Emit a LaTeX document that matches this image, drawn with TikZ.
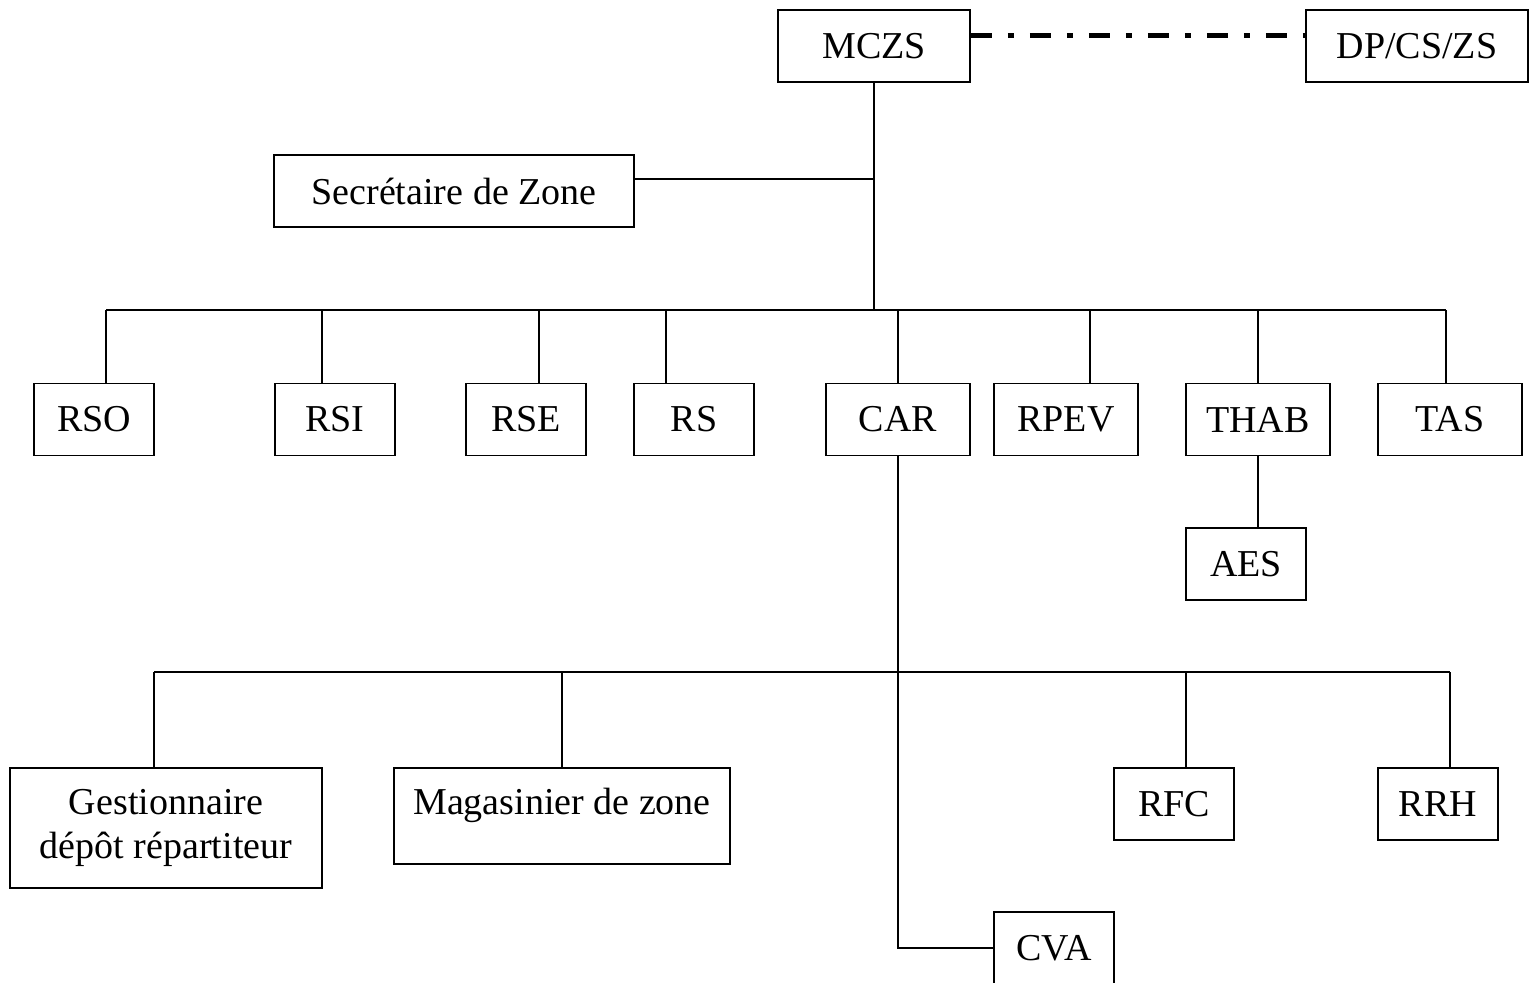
\documentclass[tikz,border=0pt]{standalone}
\usepackage{fontspec}
\setmainfont{Liberation Serif}
\usetikzlibrary{positioning}

\tikzset{
  box/.style={draw,line width=0.9pt,inner sep=0pt,align=center,
    font=\fontsize{19}{22}\selectfont,minimum height=36pt},
  link/.style={line width=0.8pt},
  dashdot/.style={line width=2.5pt,dash pattern=on 10.5pt off 8pt on 3pt off 8pt}
}

\begin{document}
\begin{tikzpicture}[x=0.5pt,y=-0.5pt,line join=miter]
	\useasboundingbox (0,0) rectangle (1529,982);
	%%
	\node (mczs) at (874,46) [box,minimum width=96pt] {MCZS};
	  \node (dpcszs) at (1417,46) [box,minimum width=111pt] {DP/CS/ZS};
	  \node (sec) at (454,191) [box,minimum width=180pt] {Secr\'etaire de Zone};

	  \node (rso) at (94,419.5) [box,minimum width=60pt] {RSO};
	  \node (rsi) at (335,419.5) [box,minimum width=60pt] {RSI};
	  \node (rse) at (526,419.5) [box,minimum width=60pt] {RSE};
	  \node (rs) at (694,419.5) [box,minimum width=60pt] {RS};
	  \node (car) at (898,419.5) [box,minimum width=72pt] {CAR};
	  \node (rpev) at (1066,419.5) [box,minimum width=72pt] {RPEV};
	  \node (thab) at (1258,419.5) [box,minimum width=72pt] {THAB};
	  \node (tas) at (1450,419.5) [box,minimum width=72pt] {TAS};
	  \node (aes) at (1246,564) [box,minimum width=60pt] {AES};

	  \node (gest) at (166,828) [box,minimum width=156pt,minimum height=60pt] {Gestionnaire\\d\'ep\^ot r\'epartiteur};
	  \node (mag) at (562,816) [box,minimum width=168pt,minimum height=48pt,text height=13.3pt,text depth=14.7pt] {Magasinier de zone};
	  \node (rfc) at (1174,804) [box,minimum width=60pt] {RFC};
	  \node (rrh) at (1438,804) [box,minimum width=60pt] {RRH};
	  \node (cva) at (1054,948) [box,minimum width=60pt] {CVA};

	  %% bus points
	  \coordinate (top) at (874,310);
	  \coordinate (t1) at (106,310);
	  \coordinate (t2) at (322,310);
	  \coordinate (t3) at (539,310);
	  \coordinate (t4) at (666,310);
	  \coordinate (t5) at (898,310);
	  \coordinate (t6) at (1090,310);
	  \coordinate (t7) at (1258,310);
	  \coordinate (t8) at (1446,310);
	  \coordinate (b1) at (154,672);
	  \coordinate (b2) at (562,672);
	  \coordinate (b3) at (1186,672);
	  \coordinate (b4) at (1450,672);

	  \draw [dashdot] ([yshift=5.5pt]mczs.east) -- ([yshift=5.5pt]dpcszs.west);

	  \draw [link] (mczs.south) -- (top);
	  \draw [link] ([yshift=6pt]sec.east) -- ([yshift=6pt]sec.east -| mczs.south);
	  \draw [link] (t1) -- (t8);

	  \draw [link] (t1) -- (t1 |- rso.north);
	  \draw [link] (t2) -- (t2 |- rsi.north);
	  \draw [link] (t3) -- (t3 |- rse.north);
	  \draw [link] (t4) -- (t4 |- rs.north);
	  \draw [link] (t5) -- (car.north);
	  \draw [link] (t6) -- (t6 |- rpev.north);
	  \draw [link] (t7) -- (thab.north);
	  \draw [link] (t8) -- (t8 |- tas.north);

	  \draw [link] (thab.south) -- (thab.south |- aes.north);

	  \draw [link] (car.south) |- (cva.west);
	  \draw [link] (b1) -- (b4);
	  \draw [link] (b1) -- (b1 |- gest.north);
	  \draw [link] (b2) -- (mag.north);
	  \draw [link] (b3) -- (b3 |- rfc.north);
	  \draw [link] (b4) -- (b4 |- rrh.north);
	%
\end{tikzpicture}
\end{document}
